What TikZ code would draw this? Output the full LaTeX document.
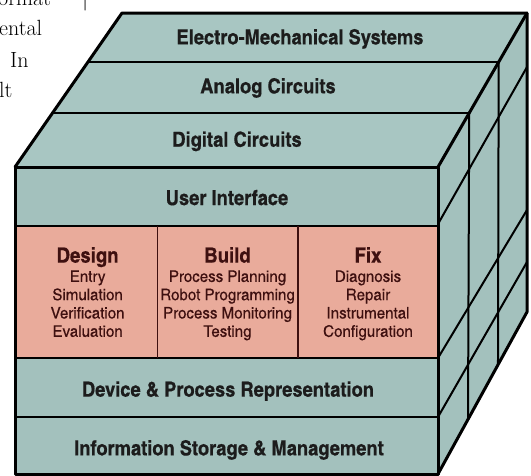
\documentclass[tikz,border=0pt]{standalone}
\usepackage{fontspec}
\newfontfamily\cndh{texgyreheroscn-bold}[Extension=.otf,FakeStretch=1.08,FakeBold=0.5]
\newfontfamily\cnds{texgyreheroscn-regular}[Extension=.otf,FakeStretch=1.15,FakeBold=0.3]
\usetikzlibrary{calc}
\definecolor{tealf}{RGB}{163,193,189}
\definecolor{tealtop}{RGB}{168,198,194}
\definecolor{pinkf}{RGB}{233,171,155}
\definecolor{ink}{RGB}{28,28,28}
\definecolor{darkred}{RGB}{62,16,16}
\begin{document}
\begin{tikzpicture}[x=1pt,y=-1pt,
  edge/.style={line width=3pt,line join=round,line cap=round,black},
  thinline/.style={line width=1.6pt,black},
  midline/.style={line width=2pt,black},
  divider/.style={line width=1.6pt,darkred},
  layertext/.style={font=\cndh\fontsize{20.7}{22}\selectfont,text=ink,inner sep=0pt,anchor=base},
  colblock/.style={font=\cnds\fontsize{16}{18.3}\selectfont,text=darkred,align=center,inner sep=0pt,anchor=north},
  pagetext/.style={font=\fontsize{22}{26}\selectfont,inner sep=0pt,anchor=base west}
]
\useasboundingbox (0,0) rectangle (531,475);
\fill[white] (0,0) rectangle (531,475);

% corner coordinates
\coordinate (ftl) at (15,167);
\coordinate (ftr) at (438,167);
\coordinate (fbl) at (15,474);
\coordinate (fbr) at (438,474);
\coordinate (btl) at (122,13);
\coordinate (btr) at (527,13);
\coordinate (bbr) at (527,312);

% faces
\fill[tealtop] (ftl) -- (btl) -- (btr) -- (ftr) -- cycle;
\fill[tealf] (ftr) -- (btr) -- (bbr) -- (fbr) -- cycle;
\fill[tealf] (ftl) rectangle (fbr);
\fill[pinkf] (15,226) rectangle (438,358);

% top face strips
\coordinate (tl1) at ($(ftl)!0.682!(btl)$);
\coordinate (tr1) at ($(ftr)!0.682!(btr)$);
\coordinate (tl2) at ($(ftl)!0.351!(btl)$);
\coordinate (tr2) at ($(ftr)!0.351!(btr)$);
\draw[thinline] (tl1) -- (tr1);
\draw[thinline] (tl2) -- (tr2);

% side face depth slices
\coordinate (sb1) at ($(fbr)!0.337!(bbr)$);
\coordinate (sb2) at ($(fbr)!0.674!(bbr)$);
\draw[midline] (tr2) -- (sb1);
\draw[midline] (tr1) -- (sb2);

% side face layer lines
\coordinate (s1f) at (438,224);
\coordinate (s1b) at (527,67);
\coordinate (s2f) at (438,358);
\coordinate (s2b) at (527,210);
\coordinate (s3f) at (438,417);
\coordinate (s3b) at (527,262);
\draw[midline] (s1f) -- (s1b);
\draw[midline] (s2f) -- (s2b);
\draw[midline] (s3f) -- (s3b);

% front face layer lines
\draw[thinline] (15,226) -- (438,226);
\draw[midline] (15,358) -- (438,358);
\draw[midline] (15,417) -- (438,417);
\draw[divider] (157.5,226) -- (157.5,358);
\draw[divider] (298,226) -- (298,358);

% outline
\draw[edge] (ftl) -- (btl) -- (btr) -- (bbr) -- (fbr);
\draw[edge] (ftr) -- (btr);
\draw[edge] (ftl) rectangle (fbr);

% layer labels
\node[layertext] (ems) at (300,44.3) {Electro-Mechanical Systems};
\node[layertext] (ana) at (268,93.3) {Analog Circuits};
\node[layertext] (dig) at (237,146.7) {Digital Circuits};
\node[layertext] (ui) at (227,205) {User Interface};
\node[layertext] (dev) at (228,396.6) {Device \& Process Representation};
\node[layertext] (inf) at (229,455.3) {Information Storage \& Management};

% pink columns
\node[colblock] (design) at (87.6,247) {{\cndh\fontsize{21}{21}\selectfont Design}\\[1pt]Entry\\Simulation\\Verification\\Evaluation};
\node[colblock] (build) at (227.5,247) {{\cndh\fontsize{21}{21}\selectfont Build}\\[1pt]Process Planning\\Robot Programming\\Process Monitoring\\Testing};
\node[colblock] (fix) at (368,247) {{\cndh\fontsize{21}{21}\selectfont Fix}\\[1pt]Diagnosis\\Repair\\Instrumental\\Configuration};

% page text fragments
\node[pagetext] (p1) at (-2,5) {ormat};
\node[pagetext] (p1b) at (82,5) {|};
\node[pagetext] (p2) at (-1,35) {ental};
\node[pagetext] (p3) at (10,67) {In};
\node[pagetext] (p4) at (-1,97) {lt};
\end{tikzpicture}
\end{document}
